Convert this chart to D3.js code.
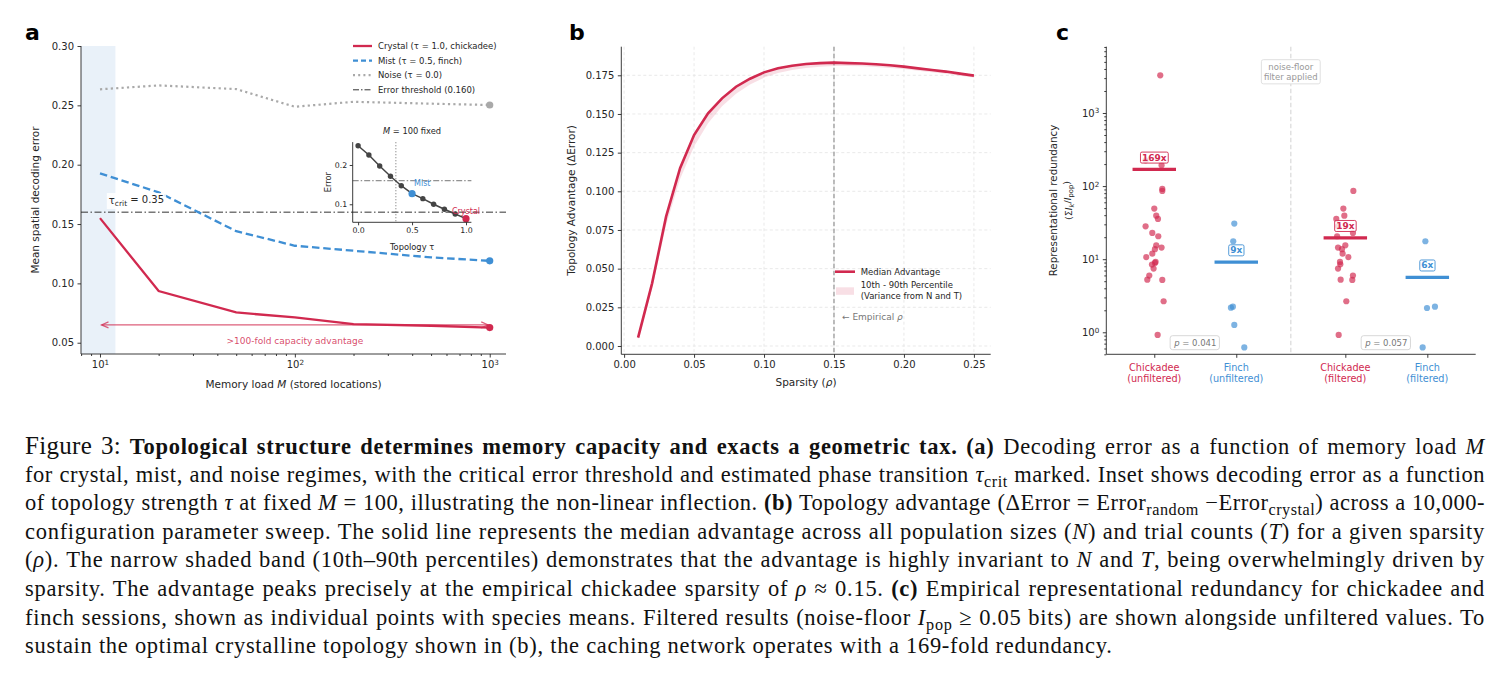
<!DOCTYPE html>
<html><head><meta charset="utf-8">
<script src="https://cdn.jsdelivr.net/npm/d3@7"></script>
<style>
body{margin:0;background:#fff;width:1499px;height:674px;overflow:hidden;position:relative}
svg{position:absolute;left:0;top:0}
#caption{position:absolute;left:25px;top:432px;width:1460px;font-family:"Liberation Serif","Times New Roman",serif;font-size:22.5px;line-height:28.6px;color:#111;letter-spacing:0.72px}
#caption div{height:28.6px;white-space:nowrap;text-align:left}
#caption.ready div{white-space:normal;text-align:justify;text-align-last:justify}
#caption.ready div.last{text-align-last:left}
#caption .b{font-weight:bold}
#caption .i{font-style:italic}
#caption .sub{font-size:0.72em;vertical-align:-0.3em;line-height:0}
#caption .fig{font-size:25px;letter-spacing:0.3px}
</style>
</head><body>
<script>
// ---------------- DATA ----------------
// Panel a
const memLoad    = [10, 20, 50, 100, 200, 500, 1000];
const crystalErr = [0.155, 0.0935, 0.0755, 0.0713, 0.0657, 0.0643, 0.0628];
const mistErr    = [0.1927, 0.1767, 0.144, 0.1317, 0.1275, 0.1219, 0.119];
const noiseErr   = [0.2635, 0.2668, 0.2637, 0.2488, 0.253, 0.2514, 0.2503];
const errThreshold = 0.16;
const tauCrit = 0.35;
const criticalBandMax = 12;
const legendA = ["Crystal (τ = 1.0, chickadee)", "Mist (τ = 0.5, finch)", "Noise (τ = 0.0)", "Error threshold (0.160)"];
const yTicksA = [0.05, 0.10, 0.15, 0.20, 0.25, 0.30];
const xTicksA = [10, 100, 1000];
// inset
const insetTau = [0, 0.1, 0.2, 0.3, 0.4, 0.5, 0.6, 0.7, 0.8, 0.9, 1.0];
const insetErr = [0.249, 0.2254, 0.1975, 0.1712, 0.1473, 0.127, 0.1143, 0.100, 0.0873, 0.0753, 0.0634];
const insetXTicks = [0.0, 0.5, 1.0];
const insetYTicks = [0.1, 0.2];

// Panel b
const sparsity  = [0.01,0.02,0.03,0.04,0.05,0.06,0.07,0.08,0.09,0.10,0.11,0.12,0.13,0.14,0.15,0.16,0.17,0.18,0.19,0.20,0.21,0.22,0.23,0.24,0.25];
const medianAdv = [0.0054,0.0405,0.0836,0.1149,0.1364,0.1504,0.1601,0.1676,0.1728,0.1769,0.1795,0.1812,0.1823,0.1829,0.1832,0.1829,0.1826,0.1821,0.1815,0.1806,0.1795,0.1784,0.1774,0.1761,0.1748];
const p10Adv    = [0.004,0.037,0.078,0.108,0.129,0.144,0.155,0.163,0.169,0.1735,0.1765,0.1785,0.1797,0.1805,0.181,0.181,0.1808,0.1804,0.1798,0.179,0.178,0.177,0.176,0.1747,0.1735];
const p90Adv    = [0.006,0.042,0.0855,0.1165,0.1378,0.1515,0.161,0.1684,0.1735,0.1775,0.18,0.1817,0.1828,0.1834,0.1837,0.1835,0.1832,0.1827,0.1821,0.1812,0.1801,0.179,0.178,0.1767,0.1754];
const empiricalRho = 0.15;
const xTicksB = [0.00, 0.05, 0.10, 0.15, 0.20, 0.25];
const yTicksB = [0.000, 0.025, 0.050, 0.075, 0.100, 0.125, 0.150, 0.175];

// Panel c
const groupNames   = ["Chickadee", "Finch", "Chickadee", "Finch"];
const groupSubs    = ["(unfiltered)", "(unfiltered)", "(filtered)", "(filtered)"];
const groupSpecies = ["chickadee", "finch", "chickadee", "finch"];
const groupPos     = [0, 1, 2.33, 3.33];
const chickUnfilt  = [3280,225,193,91.4,85.8,49.2,39.4,35.5,28.2,22.9,20.6,15.5,14.4,13.7,11.9,10.7,9.17,8.88,8.43,7.43,5.96,5.25,5.2,2.66,0.92];
const chickUnfiltJit = [0.073,-0.106,0.089,0.098,0.098,0,0.024,0.045,-0.106,-0.024,0.049,0.024,0.089,0.008,-0.024,-0.098,0.016,0.008,-0.028,-0.008,-0.061,-0.085,0.098,0.114,0.041];
const finchUnfilt  = [30.7,17.6,2.24,2.17,1.26,0.62];
const finchUnfiltJit = [-0.024,-0.037,-0.041,-0.065,-0.024,0.098];
const chickFilt    = [85.8,49.2,39.4,35.5,28.2,22.9,20.6,15.5,14.4,13.7,11.9,10.7,9.17,8.5,7.43,5.96,5.25,5.2,2.66,0.92];
const chickFiltJit = [0.098,-0.024,-0.012,-0.11,-0.089,0.093,-0.1,0,-0.089,-0.041,-0.033,0.037,-0.065,-0.061,-0.089,0.093,-0.057,0.085,0.012,-0.081];
const finchFilt    = [17.6,2.15,2.24,0.62];
const finchFiltJit = [-0.024,-0.004,0.093,-0.057];
const groupMeans   = [169, 9.1, 19.6, 5.65];
const meanLabels   = ["169x", "9x", "19x", "6x"];
const pValues      = ["0.041", "0.057"];
const yTicksC = [1, 10, 100, 1000];

// Caption
const captionLines = [
 [["Figure 3: ","fig"],["Topological structure determines memory capacity and exacts a geometric tax.","b"],[" ",""],["(a)","b"],[" Decoding error as a function of memory load ",""],["M","i"]],
 [["for crystal, mist, and noise regimes, with the critical error threshold and estimated phase transition ",""],["τ","i"],["crit","sub"],[" marked. Inset shows decoding error as a function",""]],
 [["of topology strength ",""],["τ","i"],[" at fixed ",""],["M","i"],[" = 100, illustrating the non-linear inflection. ",""],["(b)","b"],[" Topology advantage (ΔError = Error",""],["random","sub"],[" −Error",""],["crystal","sub"],[") across a 10,000-",""]],
 [["configuration parameter sweep. The solid line represents the median advantage across all population sizes (",""],["N","i"],[") and trial counts (",""],["T","i"],[") for a given sparsity",""]],
 [["(",""],["ρ","i"],["). The narrow shaded band (10th–90th percentiles) demonstrates that the advantage is highly invariant to ",""],["N","i"],[" and ",""],["T","i"],[", being overwhelmingly driven by",""]],
 [["sparsity. The advantage peaks precisely at the empirical chickadee sparsity of ",""],["ρ","i"],[" ≈ 0.15. ",""],["(c)","b"],[" Empirical representational redundancy for chickadee and",""]],
 [["finch sessions, shown as individual points with species means. Filtered results (noise-floor ",""],["I","i"],["pop","sub"],[" ≥ 0.05 bits) are shown alongside unfiltered values. To",""]],
 [["sustain the optimal crystalline topology shown in (b), the caching network operates with a 169-fold redundancy.",""]]
];

// ---------------- STYLE ----------------
const crimson = "#d1294f", blue = "#3f8fd4", noiseGray = "#a9a9a9", ink = "#262626";
const FONT = "DejaVu Sans";

const svg = d3.select("body").append("svg").attr("width",1499).attr("height",410)
  .style("font-family",FONT);

function styleAxis(g, fs){
  g.selectAll(".domain").attr("stroke",ink).attr("stroke-width",0.9);
  g.selectAll(".tick line").attr("stroke",ink).attr("stroke-width",0.9);
  g.selectAll(".tick text").attr("fill",ink).attr("font-size",fs||10).attr("font-family",FONT);
}
function supTicks(g){
  g.selectAll(".tick text").each(function(d){
    const t = d3.select(this); const e = Math.round(Math.log10(d));
    t.text("10");
    t.append("tspan").attr("dy","-0.45em").attr("font-size","7.2px").text(e);
  });
}
function minorLogTicks(domain){
  const out=[];
  for(let e=Math.floor(Math.log10(domain[0]));e<=Math.ceil(Math.log10(domain[1]));e++){
    for(let k=2;k<=9;k++){const v=k*Math.pow(10,e); if(v>=domain[0]&&v<=domain[1]) out.push(v);}
  }
  return out;
}
function panelLabel(x,y,t){
  svg.append("text").attr("x",x).attr("y",y).attr("font-size",22).attr("font-weight","bold").attr("fill","#000").text(t);
}

// ================= PANEL A =================
{
const A = {l:81, r:506, t:46, b:354};
const xA = d3.scaleLog().domain([7.99,1212]).range([A.l,A.r]);
const yA = d3.scaleLinear().domain([0.0405,0.30]).range([A.b,A.t]);
const g = svg.append("g");

g.append("rect").attr("x",A.l).attr("y",A.t).attr("width",xA(criticalBandMax)-A.l).attr("height",A.b-A.t)
  .attr("fill","#e9f1f9");

g.append("line").attr("x1",A.l).attr("x2",A.r).attr("y1",yA(errThreshold)).attr("y2",yA(errThreshold))
  .attr("stroke","#333").attr("stroke-width",1).attr("stroke-dasharray","7,2.5,1.5,2.5");

const line = d3.line().x((d,i)=>xA(memLoad[i])).y(d=>yA(d));
g.append("path").attr("d",line(noiseErr)).attr("fill","none").attr("stroke",noiseGray).attr("stroke-width",2.2).attr("stroke-dasharray","2.2,3.2");
g.append("path").attr("d",line(mistErr)).attr("fill","none").attr("stroke",blue).attr("stroke-width",2.3).attr("stroke-dasharray","7.5,3.8");
g.append("path").attr("d",line(crystalErr)).attr("fill","none").attr("stroke",crimson).attr("stroke-width",2.3);

const ay = yA(0.065), ax1 = xA(memLoad[0])+1.5, ax2 = xA(memLoad[memLoad.length-1])-1.5;
const ag = g.append("g").attr("stroke",crimson).attr("stroke-opacity",0.75).attr("fill","none").attr("stroke-width",1.2);
ag.append("line").attr("x1",ax1).attr("x2",ax2).attr("y1",ay).attr("y2",ay);
ag.append("path").attr("d",`M${ax1+7},${ay-3}L${ax1},${ay}L${ax1+7},${ay+3}`);
ag.append("path").attr("d",`M${ax2-7},${ay-3}L${ax2},${ay}L${ax2-7},${ay+3}`);
g.append("text").attr("x",xA(100)).attr("y",yA(0.052)).attr("dy","0.35em").attr("text-anchor","middle")
  .attr("font-size",9).attr("fill",crimson).attr("fill-opacity",0.85).text(">100-fold capacity advantage");

const last = memLoad.length-1;
[[noiseErr,noiseGray],[mistErr,blue],[crystalErr,crimson]].forEach(([arr,c])=>{
  g.append("circle").attr("cx",xA(memLoad[last])).attr("cy",yA(arr[last])).attr("r",3.6).attr("fill",c);
});

const tl = g.append("g");
const tt = tl.append("text").attr("x",xA(11.1)).attr("y",yA(0.170)).attr("dy","0.35em").attr("font-size",10).attr("fill",ink);
tt.append("tspan").text("τ");
tt.append("tspan").attr("dy","0.3em").attr("font-size","7.5px").text("crit");
tt.append("tspan").attr("dy","-0.3em").text(" = 0.35");
const bb = tt.node().getBBox();
tl.insert("rect","text").attr("x",bb.x-2).attr("y",bb.y-1).attr("width",bb.width+4).attr("height",bb.height+2).attr("fill","#fff").attr("fill-opacity",0.85);

const xa = g.append("g").attr("transform",`translate(0,${A.b})`)
  .call(d3.axisBottom(xA).tickValues(xTicksA).tickSize(3.5).tickPadding(3.5).tickFormat(d=>d));
styleAxis(xa); supTicks(xa);
const xm = g.append("g").attr("transform",`translate(0,${A.b})`)
  .call(d3.axisBottom(xA).tickValues(minorLogTicks(xA.domain())).tickSize(2).tickFormat(""));
xm.select(".domain").remove(); styleAxis(xm);
xa.select(".domain").attr("d",`M${A.l},0H${A.r}`);
const ya = g.append("g").attr("transform",`translate(${A.l},0)`)
  .call(d3.axisLeft(yA).tickValues(yTicksA).tickSize(3.5).tickPadding(3.5).tickFormat(d3.format(".2f")));
styleAxis(ya);
ya.select(".domain").attr("d",`M0,${A.t}V${A.b}`);

g.append("text").attr("transform",`translate(39,${(A.t+A.b)/2}) rotate(-90)`).attr("text-anchor","middle")
  .attr("font-size",10.5).attr("fill",ink).text("Mean spatial decoding error");
const xl = g.append("text").attr("x",(A.l+A.r)/2).attr("y",388).attr("text-anchor","middle").attr("font-size",10.5).attr("fill",ink);
xl.append("tspan").text("Memory load ");
xl.append("tspan").attr("font-style","italic").text("M");
xl.append("tspan").text(" (stored locations)");

const lg = g.append("g").attr("font-size",8.5).attr("fill",ink);
const legStyles = [
  {c:crimson,d:null,w:2.3},{c:blue,d:"5,3",w:2.3},{c:noiseGray,d:"2,3.2",w:2.2},{c:"#333",d:"6,2,1.5,2",w:1}];
legendA.forEach((t,i)=>{
  const y = 46 + i*14.6;
  lg.append("line").attr("x1",353).attr("x2",372).attr("y1",y).attr("y2",y).attr("stroke",legStyles[i].c)
    .attr("stroke-width",legStyles[i].w).attr("stroke-dasharray",legStyles[i].d);
  lg.append("text").attr("x",378).attr("y",y).attr("dy","0.35em").text(t);
});

const I = {l:352.7, r:471.4, t:142.1, b:222.3};
const xI = d3.scaleLinear().domain([-0.05,1.05]).range([I.l,I.r]);
const yI = d3.scaleLinear().domain([0.0541,0.2583]).range([I.b,I.t]);
const ig = g.append("g");
ig.append("line").attr("x1",xI(tauCrit)).attr("x2",xI(tauCrit)).attr("y1",I.t).attr("y2",I.b)
  .attr("stroke","#777").attr("stroke-width",0.9).attr("stroke-dasharray","1.2,1.8");
ig.append("line").attr("x1",I.l).attr("x2",I.r).attr("y1",yI(errThreshold)).attr("y2",yI(errThreshold))
  .attr("stroke","#777").attr("stroke-width",1).attr("stroke-dasharray","6,2,1.5,2");
ig.append("path").attr("d",d3.line().x((d,i)=>xI(insetTau[i])).y(d=>yI(d))(insetErr))
  .attr("fill","none").attr("stroke","#444").attr("stroke-width",1.5);
insetErr.forEach((v,i)=>{
  ig.append("circle").attr("cx",xI(insetTau[i])).attr("cy",yI(v)).attr("r",2.7).attr("fill","#444");
});
const iMist = insetTau.indexOf(0.5), iCry = insetTau.indexOf(1.0);
ig.append("circle").attr("cx",xI(0.5)).attr("cy",yI(insetErr[iMist])).attr("r",3.6).attr("fill",blue);
ig.append("circle").attr("cx",xI(1.0)).attr("cy",yI(insetErr[iCry])).attr("r",3.6).attr("fill",crimson);
ig.append("text").attr("x",xI(0.5)+2).attr("y",yI(insetErr[iMist])-7.5).attr("font-size",8).attr("fill",blue).text("Mist");
ig.append("text").attr("x",xI(1.0)).attr("y",yI(insetErr[iCry])-7).attr("dy","0.35em").attr("text-anchor","middle").attr("font-size",8).attr("fill",crimson).text("Crystal");
const ixa = ig.append("g").attr("transform",`translate(0,${I.b})`)
  .call(d3.axisBottom(xI).tickValues(insetXTicks).tickSize(3).tickPadding(2.5).tickFormat(d3.format(".1f")));
styleAxis(ixa,7.8); ixa.select(".domain").attr("d",`M${I.l},0H${I.r}`);
const iya = ig.append("g").attr("transform",`translate(${I.l},0)`)
  .call(d3.axisLeft(yI).tickValues(insetYTicks).tickSize(3).tickPadding(2.5).tickFormat(d3.format(".1f")));
styleAxis(iya,7.8); iya.select(".domain").attr("d",`M0,${I.t}V${I.b}`);
const itl = ig.append("text").attr("x",(I.l+I.r)/2).attr("y",133.5).attr("text-anchor","middle").attr("font-size",8.3).attr("fill",ink);
itl.append("tspan").attr("font-style","italic").text("M");
itl.append("tspan").text(" = 100 fixed");
ig.append("text").attr("x",(I.l+I.r)/2).attr("y",250).attr("text-anchor","middle").attr("font-size",8.3).attr("fill",ink).text("Topology τ");
ig.append("text").attr("transform",`translate(331,${(I.t+I.b)/2}) rotate(-90)`).attr("text-anchor","middle").attr("font-size",8.3).attr("fill",ink).text("Error");
}
panelLabel(25,40,"a");

// ================= PANEL B =================
{
const B = {l:621.3, r:990.7, t:46.7, b:354.3};
const xB = d3.scaleLinear().domain([-0.002,0.262]).range([B.l,B.r]);
const yB = d3.scaleLinear().domain([-0.00537,0.19349]).range([B.b,B.t]);
const g = svg.append("g");
xTicksB.forEach(v=>g.append("line").attr("x1",xB(v)).attr("x2",xB(v)).attr("y1",B.t).attr("y2",B.b)
  .attr("stroke","#e3e3e3").attr("stroke-width",0.8).attr("stroke-dasharray","3,2.5"));
yTicksB.forEach(v=>g.append("line").attr("x1",B.l).attr("x2",B.r).attr("y1",yB(v)).attr("y2",yB(v))
  .attr("stroke","#e3e3e3").attr("stroke-width",0.8).attr("stroke-dasharray","3,2.5"));
const area = d3.area().x((d,i)=>xB(sparsity[i])).y0((d,i)=>yB(p10Adv[i])).y1((d,i)=>yB(p90Adv[i]));
g.append("path").attr("d",area(sparsity)).attr("fill",crimson).attr("fill-opacity",0.15);
g.append("line").attr("x1",xB(empiricalRho)).attr("x2",xB(empiricalRho)).attr("y1",B.t).attr("y2",B.b)
  .attr("stroke","#9a9a9a").attr("stroke-width",1.3).attr("stroke-dasharray","4.5,2.5");
g.append("path").attr("d",d3.line().x((d,i)=>xB(sparsity[i])).y(d=>yB(d))(medianAdv))
  .attr("fill","none").attr("stroke",crimson).attr("stroke-width",2.6);
const xa = g.append("g").attr("transform",`translate(0,${B.b})`)
  .call(d3.axisBottom(xB).tickValues(xTicksB).tickSize(3.5).tickPadding(3.5).tickFormat(d3.format(".2f")));
styleAxis(xa); xa.select(".domain").attr("d",`M${B.l},0H${B.r}`);
const ya = g.append("g").attr("transform",`translate(${B.l},0)`)
  .call(d3.axisLeft(yB).tickValues(yTicksB).tickSize(3.5).tickPadding(3.5).tickFormat(d3.format(".3f")));
styleAxis(ya); ya.select(".domain").attr("d",`M0,${B.t}V${B.b}`);
g.append("text").attr("transform",`translate(575,${(B.t+B.b)/2}) rotate(-90)`).attr("text-anchor","middle")
  .attr("font-size",10.5).attr("fill",ink).text("Topology Advantage (ΔError)");
const xl = g.append("text").attr("x",(B.l+B.r)/2).attr("y",385.5).attr("text-anchor","middle").attr("font-size",10.5).attr("fill",ink);
xl.append("tspan").text("Sparsity (");
xl.append("tspan").attr("font-style","italic").text("ρ");
xl.append("tspan").text(")");
const lg = g.append("g").attr("font-size",8.5).attr("fill",ink);
lg.append("line").attr("x1",835).attr("x2",855).attr("y1",271.7).attr("y2",271.7).attr("stroke",crimson).attr("stroke-width",2.6);
lg.append("text").attr("x",860.7).attr("y",271.7).attr("dy","0.35em").text("Median Advantage");
lg.append("rect").attr("x",836).attr("y",287.3).attr("width",18).attr("height",7.5).attr("fill",crimson).attr("fill-opacity",0.15);
lg.append("text").attr("x",860.7).attr("y",285).attr("dy","0.35em").text("10th - 90th Percentile");
lg.append("text").attr("x",860.7).attr("y",296.2).attr("dy","0.35em").text("(Variance from N and T)");
const et = g.append("text").attr("x",xB(empiricalRho)+8).attr("y",316.7).attr("dy","0.35em").attr("font-size",9).attr("fill","#777");
et.append("tspan").text("← Empirical ");
et.append("tspan").attr("font-style","italic").text("ρ");
}
panelLabel(569,40,"b");

// ================= PANEL C =================
{
const C = {l:1106.3, r:1475.7, t:46.7, b:354.3};
const xC = d3.scaleLinear().domain([-0.585,3.92]).range([C.l,C.r]);
const yC = d3.scaleLog().domain([0.5,8070]).range([C.b,C.t]);
const g = svg.append("g");
const col = s => s==="chickadee"?crimson:blue;
const divX = (groupPos[1]+groupPos[2])/2;
g.append("line").attr("x1",xC(divX)).attr("x2",xC(divX)).attr("y1",C.t).attr("y2",C.b)
  .attr("stroke","#dcdcdc").attr("stroke-width",1.3).attr("stroke-dasharray","4.5,2.5");
const nf = g.append("g");
const nft = nf.append("text").attr("x",xC(divX)).attr("y",66.7).attr("text-anchor","middle").attr("font-size",8.5).attr("fill","#999");
nft.append("tspan").attr("x",xC(divX)).attr("dy","0.35em").text("noise-floor");
nft.append("tspan").attr("x",xC(divX)).attr("dy","1.2em").text("filter applied");
const nb = nft.node().getBBox();
nf.insert("rect","text").attr("x",nb.x-2.5).attr("y",nb.y-2).attr("width",nb.width+5).attr("height",nb.height+4)
  .attr("rx",2).attr("fill","#fff").attr("stroke","#ddd").attr("stroke-width",0.9);

const groups = [[chickUnfilt,chickUnfiltJit],[finchUnfilt,finchUnfiltJit],[chickFilt,chickFiltJit],[finchFilt,finchFiltJit]];
groups.forEach(([vals,jit],gi)=>{
  vals.forEach((v,k)=>{
    g.append("circle").attr("cx",xC(groupPos[gi]+jit[k])).attr("cy",yC(v)).attr("r",3.1)
      .attr("fill",col(groupSpecies[gi])).attr("fill-opacity",0.68);
  });
});
groups.forEach((_,gi)=>{
  const c = col(groupSpecies[gi]);
  const ym = yC(groupMeans[gi]);
  g.append("line").attr("x1",xC(groupPos[gi]-0.265)).attr("x2",xC(groupPos[gi]+0.265)).attr("y1",ym).attr("y2",ym)
    .attr("stroke",c).attr("stroke-width",3.2);
  const lb = g.append("g");
  const t = lb.append("text").attr("x",xC(groupPos[gi])).attr("y",ym-12).attr("dy","0.35em").attr("text-anchor","middle")
    .attr("font-size",9).attr("font-weight","bold").attr("fill",c).text(meanLabels[gi]);
  const b = t.node().getBBox();
  lb.insert("rect","text").attr("x",b.x-1.5).attr("y",b.y-0.5).attr("width",b.width+3).attr("height",b.height+1)
    .attr("rx",1.5).attr("fill","#fff").attr("fill-opacity",0.75).attr("stroke",c).attr("stroke-width",0.9);
});
pValues.forEach((p,i)=>{
  const cxp = xC(groupPos[2*i] + 0.5*(groupPos[2*i+1]-groupPos[2*i]));
  const pg = g.append("g");
  const t = pg.append("text").attr("x",cxp).attr("y",342.7).attr("dy","0.35em").attr("text-anchor","middle").attr("font-size",8.5).attr("fill","#777");
  t.append("tspan").attr("font-style","italic").text("p");
  t.append("tspan").text(" = " + p);
  const b = t.node().getBBox();
  pg.insert("rect","text").attr("x",b.x-3).attr("y",b.y-2).attr("width",b.width+6).attr("height",b.height+4)
    .attr("rx",2.5).attr("fill","#fff").attr("stroke","#d4d4d4").attr("stroke-width",0.9);
});
const xa = g.append("g").attr("transform",`translate(0,${C.b})`)
  .call(d3.axisBottom(xC).tickValues(groupPos).tickSize(3.5).tickPadding(3.5).tickFormat(""));
styleAxis(xa); xa.select(".domain").attr("d",`M${C.l},0H${C.r}`);
groupPos.forEach((p,i)=>{
  const t = g.append("text").attr("x",xC(p)).attr("text-anchor","middle").attr("font-size",9.7).attr("fill",col(groupSpecies[i]));
  t.append("tspan").attr("x",xC(p)).attr("y",371.2).text(groupNames[i]);
  t.append("tspan").attr("x",xC(p)).attr("y",382.2).text(groupSubs[i]);
});
const ya = g.append("g").attr("transform",`translate(${C.l},0)`)
  .call(d3.axisLeft(yC).tickValues(yTicksC).tickSize(3.5).tickPadding(3.5).tickFormat(d=>d));
styleAxis(ya); supTicks(ya);
const ym = g.append("g").attr("transform",`translate(${C.l},0)`)
  .call(d3.axisLeft(yC).tickValues(minorLogTicks(yC.domain())).tickSize(2).tickFormat(""));
ym.select(".domain").remove(); styleAxis(ym);
ya.select(".domain").attr("d",`M0,${C.t}V${C.b}`);
g.append("text").attr("transform",`translate(1057,${(C.t+C.b)/2}) rotate(-90)`).attr("text-anchor","middle")
  .attr("font-size",10.3).attr("fill",ink).text("Representational redundancy");
const l2 = g.append("text").attr("transform",`translate(1071.5,${(C.t+C.b)/2}) rotate(-90)`).attr("text-anchor","middle")
  .attr("font-size",9.5).attr("fill",ink);
l2.append("tspan").text("(Σ");
l2.append("tspan").attr("font-style","italic").text("I");
l2.append("tspan").attr("font-style","italic").attr("font-size","6.8px").attr("dy","0.3em").text("k");
l2.append("tspan").attr("dy","-0.3em").text("/");
l2.append("tspan").attr("font-style","italic").text("I");
l2.append("tspan").attr("font-size","6.8px").attr("dy","0.3em").text("pop");
l2.append("tspan").attr("dy","-0.3em").text(")");
}
panelLabel(1056,40,"c");

// ================= CAPTION =================
const cap = d3.select("body").append("div").attr("id","caption");
captionLines.forEach((segs,i)=>{
  const div = cap.append("div").attr("class", i===captionLines.length-1 ? "last" : null);
  const inner = div.append("span").attr("class","line");
  segs.forEach(([t,c])=>inner.append("span").attr("class",c||null).text(t));
});
cap.selectAll("div").each(function(){
  const inner = this.querySelector("span.line");
  let w = inner.getBoundingClientRect().width;
  let ls = 0.72;
  while (w > 1458 && ls > -1) { ls -= 0.1; this.style.letterSpacing = ls + "px"; w = inner.getBoundingClientRect().width; }
});
cap.classed("ready", true);
</script>
</body></html>
